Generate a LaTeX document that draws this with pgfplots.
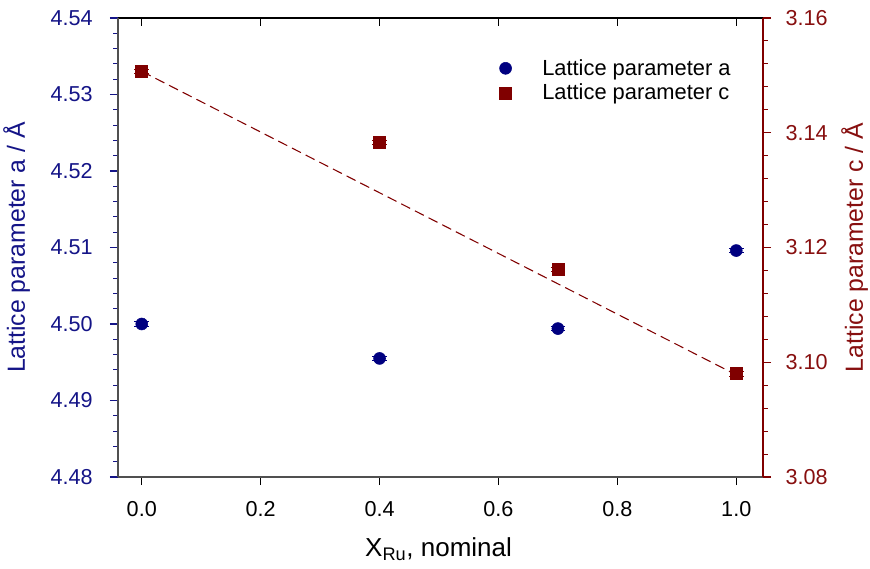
\documentclass[border=0pt]{standalone}
\usepackage{fontspec}
\setmainfont{Liberation Sans}
\usepackage{pgfplots}
\pgfplotsset{compat=1.18}
\definecolor{navy}{RGB}{0,0,128}
\definecolor{navytext}{RGB}{20,20,135}
\definecolor{dred}{RGB}{128,0,0}
\definecolor{dredtext}{RGB}{135,15,15}
\definecolor{spine}{RGB}{80,80,80}
\pgfplotsset{
  common/.style={
    scale only axis, width=483.75pt, height=344.25pt,
    xmin=-0.04, xmax=1.045,
    /pgf/number format/assume math mode=true,
    ticklabel style={font=\fontsize{16.2}{19}\selectfont},
    major tick length=6pt, minor tick length=3.5pt,
    clip=false,
  }
}
\begin{document}
\begin{tikzpicture}
% bottom x axis
\begin{axis}[common, ymin=0, ymax=1,
  axis y line=none, axis x line*=bottom,
  x axis line style={draw=spine, line width=0.9pt},
  tick align=outside,
  xtick={0,0.2,0.4,0.6,0.8,1.0},
  xticklabels={0.0,0.2,0.4,0.6,0.8,1.0},
  tick style={black, line width=0.8pt},
  xticklabel style={yshift=-9pt},
  xlabel={X\textsubscript{Ru}, nominal},
  every axis x label/.style={at={(axis description cs:0.497,-0.158)}, anchor=center, font=\fontsize{19.5}{23}\selectfont},
]
\path (axis description cs:-0.1829,-0.2004) rectangle (axis description cs:1.1659,1.0392);
\end{axis}
% top x axis
\begin{axis}[common, ymin=0, ymax=1,
  axis y line=none, axis x line*=top,
  x axis line style={draw=black, line width=0.9pt},
  tick align=inside,
  xtick={0,0.2,0.4,0.6,0.8,1.0},
  xticklabels={},
  tick style={black, line width=0.8pt},
]
\end{axis}
% left y axis
\begin{axis}[common,
  ymin=4.48, ymax=4.54,
  axis x line=none, axis y line*=left,
  y axis line style={draw=spine, line width=0.9pt},
  tick align=outside,
  ytick={4.48,4.49,4.50,4.51,4.52,4.53,4.54},
  yticklabels={4.48,4.49,4.50,4.51,4.52,4.53,4.54},
  minor y tick num=4,
  tick style={navytext, line width=0.8pt},
  yticklabel style={text=navytext, xshift=-9.5pt},
  ylabel={Lattice parameter a / Å},
  every axis y label/.style={at={(axis description cs:-0.1442,0.5)}, rotate=90, anchor=base, inner sep=0pt, text=navytext, font=\fontsize{18.6}{22}\selectfont},
]
\addplot[only marks, mark=*, mark size=4.5pt, color=navy,
  error bars/.cd, y dir=both, y explicit,
  error bar style={navy, line width=0.7pt},
  error mark options={navy, rotate=90, mark size=5.5pt, line width=0.7pt}]
  coordinates {
    (0.0,4.5000) +- (0,0.0003)
    (0.4,4.4955) +- (0,0.0003)
    (0.7,4.4994) +- (0,0.0003)
    (1.0,4.5096) +- (0,0.0003)
  };
\end{axis}
% right y axis
\begin{axis}[common,
  ymin=3.08, ymax=3.16,
  axis x line=none, axis y line*=right,
  y axis line style={draw=dred, line width=0.9pt},
  tick align=outside,
  ytick={3.08,3.10,3.12,3.14,3.16},
  yticklabels={3.08,3.10,3.12,3.14,3.16},
  minor y tick num=4,
  tick style={dred, line width=0.8pt},
  yticklabel style={text=dredtext, xshift=7.5pt},
  ylabel={Lattice parameter c / Å},
  every axis y label/.style={at={(axis description cs:1.155,0.5)}, rotate=90, anchor=base, inner sep=0pt, text=dredtext, font=\fontsize{18.6}{22}\selectfont},
  legend style={draw=none, fill=none, at={(axis description cs:0.585,0.922)}, anchor=north west,
    font=\fontsize{16.4}{19}\selectfont, row sep=1pt,
    /tikz/every odd column/.append style={column sep=21pt}},
  legend cell align=left,
]
\addlegendimage{only marks, mark=*, mark size=4.5pt, color=navy}
\addlegendentry{Lattice parameter a}
\addplot[forget plot, dred, dash pattern=on 7.5pt off 4pt, line width=0.8pt]
  coordinates {(0.0,3.1507) (1.0,3.0978)};
\addplot[only marks, mark=square*, mark size=4.5pt, color=dred,
  error bars/.cd, y dir=both, y explicit,
  error bar style={dred, line width=0.7pt},
  error mark options={dred, rotate=90, mark size=5.5pt, line width=0.7pt}]
  coordinates {
    (0.0,3.1507) +- (0,0.0004)
    (0.4,3.1383) +- (0,0.0004)
    (0.7,3.1162) +- (0,0.0004)
    (1.0,3.0980) +- (0,0.0004)
  };
\addlegendentry{Lattice parameter c}
\end{axis}
\end{tikzpicture}
\end{document}
